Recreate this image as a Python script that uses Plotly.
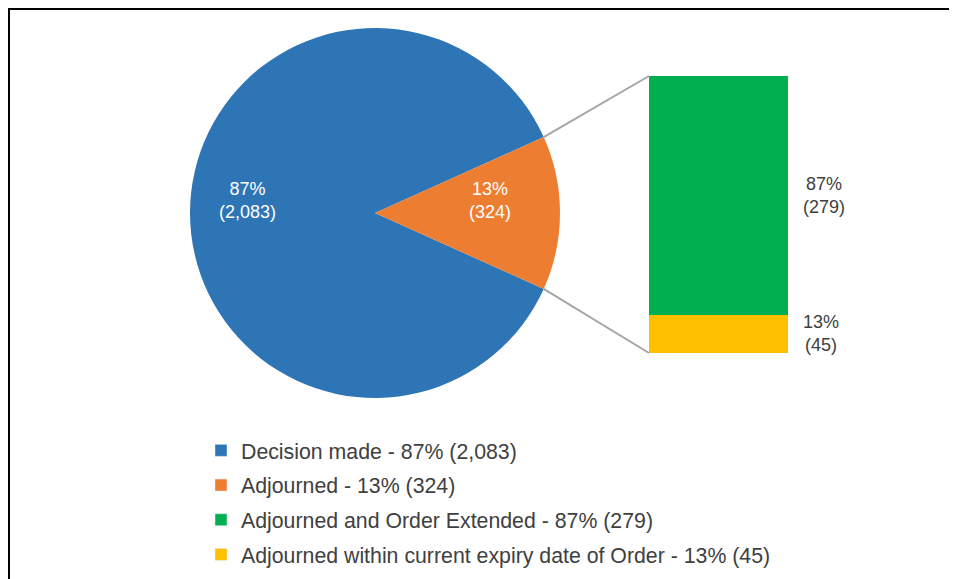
import math

import plotly.graph_objects as go

# pie: main split of outcomes
pie_labels = ["Decision made", "Adjourned"]
pie_values = [2083, 324]
pie_pct = [87, 13]
pie_colors = ["#2E75B6", "#ED7D31"]

# bar: breakdown of "Adjourned"
bar_labels = ["Adjourned within current expiry date of Order", "Adjourned and Order Extended"]
bar_values = [45, 279]
bar_pct = [13, 87]
bar_colors = ["#FFC000", "#00B050"]

W, H = 957, 579
OFF = 8  # the page puts the figure 8px in from the window corner
FONT = "Arial, 'Liberation Sans', sans-serif"
INK = "#404040"

# pixel geometry of the drawing (window coordinates)
cx, cy, r = 375, 213, 185
bx0, bx1, by0, by1 = 649, 788, 76, 353


def px(x):
    return (x - OFF) / W


def py(y):
    return 1 - (y - OFF) / H


total = sum(pie_values)
split_share = pie_values[1] / total
rotation = 90 + 180 * split_share

fig = go.Figure()

fig.add_trace(
    go.Pie(
        labels=pie_labels,
        values=pie_values,
        sort=False,
        direction="clockwise",
        rotation=rotation,
        marker={"colors": pie_colors, "line": {"width": 0}},
        textinfo="none",
        hoverinfo="label+value+percent",
        showlegend=False,
        domain={"x": [px(cx - r), px(cx + r)], "y": [py(cy + r), py(cy - r)]},
    )
)

for lab, val, col in zip(bar_labels, bar_values, bar_colors):
    fig.add_trace(
        go.Bar(
            x=[0],
            y=[val],
            width=1,
            marker={"color": col, "line": {"width": 0}},
            name=lab,
            showlegend=False,
            hovertemplate=f"{lab}: %{{y}}<extra></extra>",
        )
    )

# legend entries, one group each so the spacing is even
legend_items = [
    (pie_labels[0], pie_pct[0], pie_values[0], pie_colors[0]),
    (pie_labels[1], pie_pct[1], pie_values[1], pie_colors[1]),
    (bar_labels[1], bar_pct[1], bar_values[1], bar_colors[1]),
    (bar_labels[0], bar_pct[0], bar_values[0], bar_colors[0]),
]
for rank, (lab, pct, val, col) in enumerate(legend_items):
    fig.add_trace(
        go.Bar(
            x=[None],
            y=[None],
            marker={"color": col},
            name=f"{lab} - {pct}% ({val:,})",
            legendgroup=f"g{rank}",
            legendrank=rank + 1,
            hoverinfo="skip",
        )
    )

annotations = []
# pie labels
pie_label_pos = [(247, 201), (490, 201)]
for (x, y), pct, val in zip(pie_label_pos, pie_pct, pie_values):
    annotations.append(
        dict(
            text=f"{pct}%<br>({val:,})",
            x=px(x), y=py(y), xref="paper", yref="paper",
            xanchor="center", yanchor="middle",
            showarrow=False, font={"color": "white", "size": 18, "family": FONT},
        )
    )

# bar labels beside each segment
base = 0
for val, pct in zip(bar_values, bar_pct):
    annotations.append(
        dict(
            text=f"{pct}%<br>({val:,})",
            x=0.5, y=base + val / 2, xref="x", yref="y",
            xanchor="left", yanchor="middle", xshift=13,
            showarrow=False, font={"color": INK, "size": 18, "family": FONT},
        )
    )
    base += val

# connector lines from the split slice to the bar
half = math.pi * split_share
ex = cx + r * math.cos(half)
ey_top = cy - r * math.sin(half)
ey_bot = cy + r * math.sin(half)
shapes = [
    dict(type="line", xref="paper", yref="paper", x0=px(ex), y0=py(ey_top), x1=px(bx0), y1=py(by0),
         line={"color": "#A5A5A5", "width": 2}),
    dict(type="line", xref="paper", yref="paper", x0=px(ex), y0=py(ey_bot), x1=px(bx0), y1=py(by1),
         line={"color": "#A5A5A5", "width": 2}),
    # chart frame (only top and left edges fall inside the picture)
    dict(type="path", xref="paper", yref="paper",
         path=f"M {px(9)},{py(H + 20)} L {px(9)},{py(9)} L {px(W + 20)},{py(9)}",
         line={"color": "black", "width": 2}),
]

fig.update_layout(
    width=W,
    height=H,
    autosize=False,
    margin={"l": 0, "r": 0, "t": 0, "b": 0},
    paper_bgcolor="white",
    plot_bgcolor="rgba(0,0,0,0)",
    barmode="stack",
    bargap=0,
    font={"family": FONT, "color": INK},
    xaxis={"domain": [px(bx0), px(bx1)], "range": [-0.5, 0.5], "visible": False, "fixedrange": True},
    yaxis={"domain": [py(by1), py(by0)], "range": [0, sum(bar_values)], "visible": False, "fixedrange": True},
    showlegend=True,
    legend={
        "x": px(201), "y": py(430), "xanchor": "left", "yanchor": "top",
        "font": {"size": 21.3, "color": INK, "family": FONT},
        "tracegroupgap": 4,
        "itemwidth": 30,
        "bgcolor": "rgba(0,0,0,0)",
        "traceorder": "grouped",
    },
    annotations=annotations,
    shapes=shapes,
)

fig.write_html("out.html")
